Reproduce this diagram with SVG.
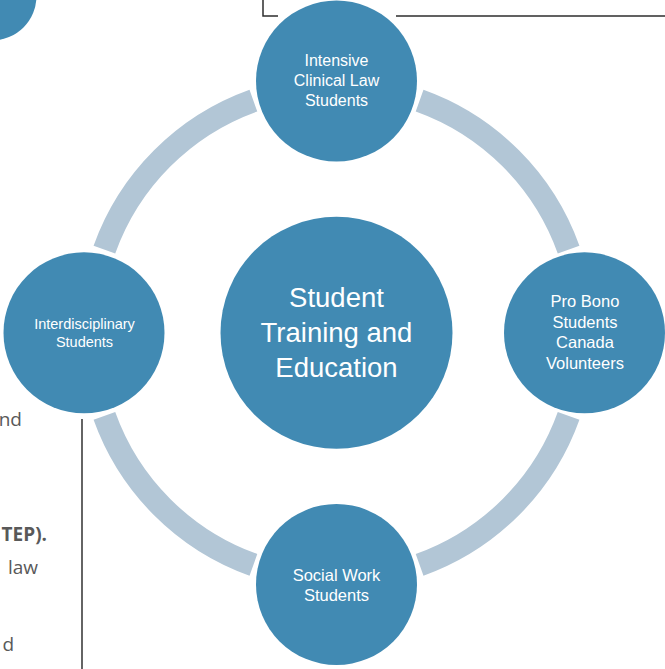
<svg xmlns="http://www.w3.org/2000/svg" width="665" height="669" viewBox="0 0 665 669">
  <style>
    .node { fill: #418AB3; }
    .arc { fill: none; stroke: #B2C6D6; stroke-width: 23; stroke-linecap: butt; }
    .lbl { fill: #FFFFFF; font-family: "Liberation Sans", Arial, sans-serif; text-anchor: middle; }
    .side { fill: #595959; font-family: "Open Sans", "Liberation Sans", Arial, sans-serif; font-size: 19px; text-anchor: end; }
    .rule { stroke: #2E2E2E; stroke-width: 1.5; fill: none; }
  </style>
  <rect width="665" height="669" fill="#FFFFFF"/>

  <!-- surrounding document fragments -->
  <g id="page-fragments">
    <circle cx="-8" cy="-4" r="44.5" class="node"/>
    <path class="rule" d="M263 0 V16 H278 M396 16 H665"/>
    <line x1="82" y1="419" x2="82" y2="669" stroke="#111111" stroke-width="1.3"/>
    <text class="side" x="22" y="426">nd</text>
    <text class="side" x="47" y="541" font-weight="bold">TEP).</text>
    <text class="side" x="38" y="574">law</text>
    <text class="side" x="14" y="651">d</text>
  </g>

  <!-- connectors (cycle ring arcs) -->
  <g id="connectors">
    <path class="arc" d="M419.6 100.7 A246.5 246.5 0 0 1 568.6 249.7"/>
    <path class="arc" d="M568.6 415.9 A246.5 246.5 0 0 1 419.6 564.9"/>
    <path class="arc" d="M253.4 564.9 A246.5 246.5 0 0 1 104.4 415.9"/>
    <path class="arc" d="M104.4 249.7 A246.5 246.5 0 0 1 253.4 100.7"/>
  </g>

  <g id="node-center">
    <circle cx="336.5" cy="332.8" r="116" class="node"/>
    <text class="lbl" font-size="27.5"><tspan x="336.5" y="307">Student</tspan><tspan x="336.5" y="342">Training and</tspan><tspan x="336.5" y="377">Education</tspan></text>
  </g>

  <g id="node-top">
    <circle cx="336.5" cy="81" r="80.5" class="node"/>
    <text class="lbl" font-size="16"><tspan x="336.5" y="66">Intensive</tspan><tspan x="336.5" y="86">Clinical Law</tspan><tspan x="336.5" y="106">Students</tspan></text>
  </g>

  <g id="node-right">
    <circle cx="584.5" cy="332.8" r="80.5" class="node"/>
    <text class="lbl" font-size="16.5"><tspan x="585" y="307">Pro Bono</tspan><tspan x="585" y="327.5">Students</tspan><tspan x="585" y="348">Canada</tspan><tspan x="585" y="369">Volunteers</tspan></text>
  </g>

  <g id="node-bottom">
    <circle cx="336.5" cy="584.5" r="80.5" class="node"/>
    <text class="lbl" font-size="16.5"><tspan x="336.5" y="581">Social Work</tspan><tspan x="336.5" y="601">Students</tspan></text>
  </g>

  <g id="node-left">
    <circle cx="84" cy="332.8" r="80.5" class="node"/>
    <text class="lbl" font-size="14.5"><tspan x="84.5" y="329">Interdisciplinary</tspan><tspan x="84.5" y="347">Students</tspan></text>
  </g>
</svg>
